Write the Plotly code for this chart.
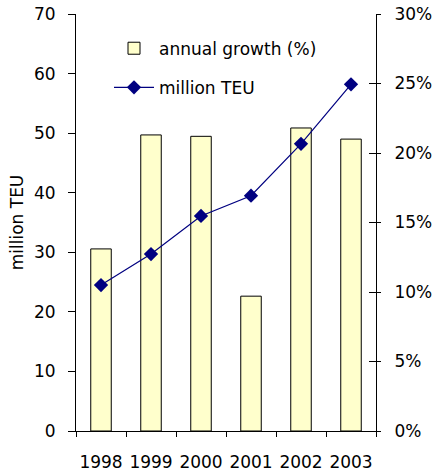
import plotly.graph_objects as go

years = ["1998", "1999", "2000", "2001", "2002", "2003"]
growth_pct = [13.1, 21.3, 21.2, 9.7, 21.8, 21.0]
million_teu = [24.5, 29.7, 36.1, 39.5, 48.2, 58.2]
left_ticks = [0, 10, 20, 30, 40, 50, 60, 70]
right_ticks = [0, 5, 10, 15, 20, 25, 30]
right_labels = [f"{v}%" for v in right_ticks]

FONT = dict(family="DejaVu Sans", size=17, color="black")

fig = go.Figure()
# bars on the base (right, percent) axis so the line overlay is drawn on top
fig.add_trace(go.Bar(
    x=years, y=growth_pct, name="annual growth (%)", yaxis="y",
    marker=dict(color="#FFFFCC", line=dict(color="black", width=1)),
    legendgroup="a",
))
# invisible trace to activate the inner-tick axis
fig.add_trace(go.Scatter(x=years, y=growth_pct, yaxis="y3", mode="none",
                         showlegend=False, hoverinfo="skip"))
fig.add_trace(go.Scatter(
    x=years, y=million_teu, name="million TEU", mode="lines+markers",
    yaxis="y2",
    line=dict(color="#000080", width=1.2),
    marker=dict(symbol="diamond", size=11, color="#000080"),
    legendgroup="b",
))

fig.update_layout(
    width=433, height=474,
    margin=dict(l=76, r=57, t=14, b=43, pad=0),
    plot_bgcolor="white", paper_bgcolor="white",
    font=FONT,
    bargap=0.59,
    showlegend=True,
    legend=dict(x=0.11, y=0.96, xanchor="left", yanchor="top",
                bgcolor="rgba(0,0,0,0)", font=FONT, itemwidth=40,
                tracegroupgap=14, traceorder="grouped"),
    xaxis=dict(
        type="category", showline=True, linecolor="black", linewidth=1,
        ticks="outside", ticklen=5, tickcolor="black", tickson="boundaries",
        showgrid=False, ticklabelstandoff=16, tickangle=0, automargin=False,
    ),
    yaxis=dict(
        range=[0, 30], tickvals=right_ticks, ticktext=right_labels,
        side="right", anchor="x", showline=True,
        linecolor="black", linewidth=1, ticks="outside", ticklen=4,
        tickcolor="black", showgrid=False, zeroline=False,
        ticklabelstandoff=10, automargin=False,
    ),
    yaxis3=dict(
        range=[0, 30], tickvals=right_ticks, overlaying="y", side="right",
        anchor="x", showline=False, ticks="inside", ticklen=7,
        tickcolor="black", showticklabels=False, showgrid=False,
        zeroline=False, automargin=False,
    ),
    yaxis2=dict(
        range=[0, 70], tickvals=left_ticks, overlaying="y", side="left",
        anchor="x", showline=True, linecolor="black",
        linewidth=1, ticks="outside", ticklen=7, tickcolor="black",
        showgrid=False, zeroline=False, ticklabelstandoff=9, automargin=False,
        title=dict(text="million TEU", font=FONT, standoff=6),
    ),
)

fig.write_html("out.html")
